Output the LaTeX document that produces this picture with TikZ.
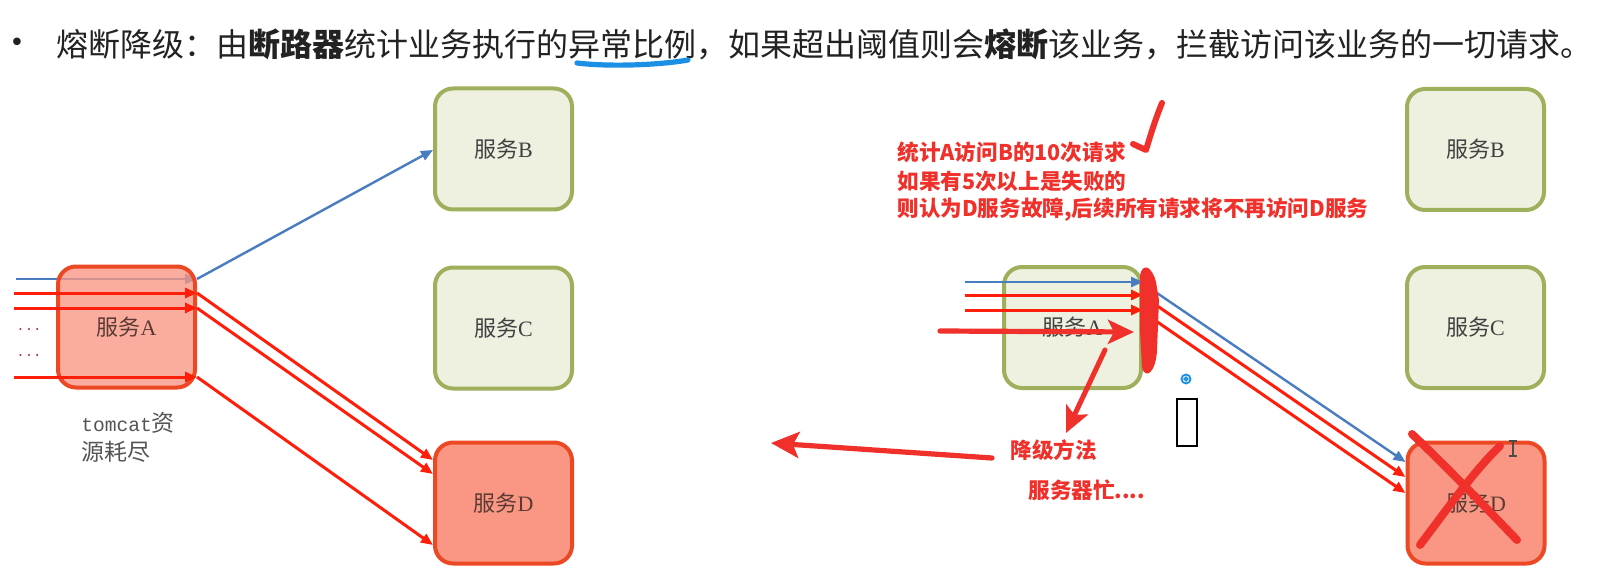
\documentclass[tikz,border=0pt]{standalone}
\usepackage{fontspec}
\setmainfont{Liberation Serif}
\newfontfamily\cjk{Noto Sans CJK SC}
\newfontfamily\monof{Liberation Mono}
\newfontfamily\djv{DejaVu Sans}
\usetikzlibrary{arrows.meta,calc,backgrounds}
\definecolor{gfill}{HTML}{EEF1E0}
\definecolor{gborder}{HTML}{9EB05C}
\definecolor{rfill}{HTML}{F99784}
\definecolor{rborder}{HTML}{EC4824}
\definecolor{boxtext}{HTML}{404040}
\definecolor{badtext}{HTML}{5A3A32}
\definecolor{lineblue}{HTML}{4A7DBF}
\definecolor{linered}{HTML}{FF1E0A}
\definecolor{brushred}{HTML}{F0302A}
\definecolor{titlegray}{HTML}{222222}
\definecolor{ulblue}{HTML}{1A8FE3}
\definecolor{dotred}{HTML}{B03060}
\definecolor{notegray}{HTML}{555555}
\newcommand\svclabel[1]{{\cjk 服务}#1}
\begin{document}
\begin{tikzpicture}[x=0.5pt,y=-0.5pt,
  svc/.style={rectangle, rounded corners=9pt, minimum width=68.5pt, minimum height=60.5pt,
    inner sep=0pt, line width=2pt, font=\fontsize{11}{11}\selectfont},
  okbox/.style={svc, draw=gborder, fill=gfill, text=boxtext},
  badbox/.style={svc, draw=rborder, fill=rfill, text=badtext},
  bl/.style={draw=lineblue, line width=1.2pt, -{Triangle[length=6pt,width=5pt]}},
  rl/.style={draw=linered, line width=1.5pt, -{Triangle[length=6pt,width=5pt]}},
  brush/.style={draw=brushred, line width=3pt, line cap=round, line join=round},
  redtxt/.style={anchor=west, inner sep=0pt, text=brushred, font=\cjk\bfseries\fontsize{10.8}{10.8}\selectfont},
  notetxt/.style={anchor=west, inner sep=0pt, text=notegray, font=\cjk\fontsize{11.5}{11.5}\selectfont}
]
\useasboundingbox (0,0) rectangle (1613,583);
\begin{pgfonlayer}{background}
\fill[white] (0,0) rectangle (1613,583);
\end{pgfonlayer}

% ---------- title ----------
\node[inner sep=0pt, text=titlegray, font=\djv\fontsize{13}{13}\selectfont] (bul) at (17,45) {•};
\node[anchor=west, inner sep=0pt, text=titlegray, font=\cjk\fontsize{16}{16}\selectfont] (title) at (56,44)
 {熔断降级：由\textbf{断路器}统计业务执行的异常比例，如果超出阈值则会\textbf{熔断}该业务，拦截访问该业务的一切请求。};
\coordinate (ul1) at (577,63);
\coordinate (ul2) at (688,60);
\draw[ulblue, line width=2.6pt, line cap=round] (ul1) .. controls (610,67) and (660,65) .. (ul2);

% ---------- left diagram ----------
\node[badbox, fill opacity=0.78, text opacity=1] (lA) at (126.5,327) {\svclabel{A}};
\node[okbox] (lB) at (503.5,149) {\svclabel{B}};
\node[okbox] (lC) at (503.5,328) {\svclabel{C}};
\node[badbox] (lD) at (503.5,503) {\svclabel{D}};

\coordinate (li1) at (16,279);
\coordinate (li2) at (14,293);
\coordinate (li3) at (14,308);
\coordinate (li4) at (14,377);
\begin{pgfonlayer}{background}
\draw[bl] (li1) -- (li1 -| lA.east);
\end{pgfonlayer}
\draw[rl] (li2) -- (li2 -| lA.east);
\draw[rl] (li3) -- (li3 -| lA.east);
\draw[rl] (li4) -- (li4 -| lA.east);
\draw[bl] (li1 -| lA.east) -- ([yshift=-0.5pt]lB.west);
\draw[rl] (li2 -| lA.east) -- ([yshift=21.5pt]lD.west);
\draw[rl] (li3 -| lA.east) -- ([yshift=14.5pt]lD.west);
\draw[rl] (li4 -| lA.east) -- ([yshift=-21pt]lD.west);

\node[anchor=center, inner sep=0pt, text=dotred, font=\monof\fontsize{7}{7}\selectfont] (dots1) at (29,329) {...};
\node[anchor=center, inner sep=0pt, text=dotred, font=\monof\fontsize{7}{7}\selectfont] (dots2) at (29,355) {...};

\node[notetxt] (tc1) at (81,423) {{\monof\fontsize{9.8}{9.8}\selectfont tomcat}资};
\node[notetxt] (tc2) at (81,452) {源耗尽};

% ---------- right diagram ----------
\node[okbox] (rA) at (1072.5,327.5) {\svclabel{A}};
\node[okbox] (rB) at (1475.5,149.5) {\svclabel{B}};
\node[okbox] (rC) at (1475.5,327.5) {\svclabel{C}};
\node[badbox] (rD) at (1476,503) {\svclabel{D}};

\coordinate (ri1) at (965,282);
\coordinate (ri2) at (965,295);
\coordinate (ri3) at (965,310);
\draw[bl] (ri1) -- (ri1 -| rA.east);
\draw[rl] (ri2) -- (ri2 -| rA.east);
\draw[rl] (ri3) -- (ri3 -| rA.east);

\coordinate (bo1) at (1154,291);
\coordinate (bo2) at (1156,305);
\coordinate (bo3) at (1156,321);
\draw[bl] (bo1) -- ([yshift=20.5pt]rD.west);
\draw[rl] (bo2) -- ([yshift=13pt]rD.west);
\draw[rl] (bo3) -- ([yshift=5pt]rD.west);

% red notes
\node[redtxt] (n1) at (897,152) {统计A访问B的10次请求};
\node[redtxt] (n2) at (897,181) {如果有5次以上是失败的};
\node[redtxt] (n3) at (897,210) {则认为D服务故障,后续所有请求将不再访问D服务};
\node[redtxt] (n4) at (1010,450) {降级方法};
\node[redtxt] (n5) at (1028,490) {服务器忙....};

% hand-drawn marks
\fill[brushred] (1140,276) .. controls (1142,262) and (1152,266) .. (1156,282)
  -- (1159,300) -- (1157,350) .. controls (1156,372) and (1146,380) .. (1142,368)
  -- (1140,330) -- cycle;
\draw[brush, line width=2.6pt, -{Stealth[length=13pt,width=12pt,inset=3pt]}] (940,331) -- (1134,332);
\draw[brush, line width=2.5pt, -{Stealth[length=13pt,width=12pt,inset=3pt]}] (1105,350) -- (1066,433);
\draw[brush, line width=2.6pt, -{Stealth[length=14pt,width=13pt,inset=3pt]}] (992,458) -- (771,443);
\draw[brush] (1133,144) -- (1146,150) .. controls (1152,130) and (1157,115) .. (1162,103);
\draw[brush, line width=4pt] (1412,434) .. controls (1450,470) and (1490,512) .. (1517,540);
\draw[brush, line width=4pt] (1420,545) .. controls (1450,505) and (1475,470) .. (1500,446);

% small marks
\draw[ulblue, line width=0.9pt] (1186,379) circle (4.5);
\draw[ulblue, line width=0.8pt] (1186,379) circle (1.8);
\draw[black, line width=0.6pt] (1177,399) rectangle (1197,446);
\draw[gray!60!black, line width=0.6pt] (1509,441) -- (1517,441) (1513,441) -- (1513,456) (1509,456) -- (1517,456);
\end{tikzpicture}
\end{document}
